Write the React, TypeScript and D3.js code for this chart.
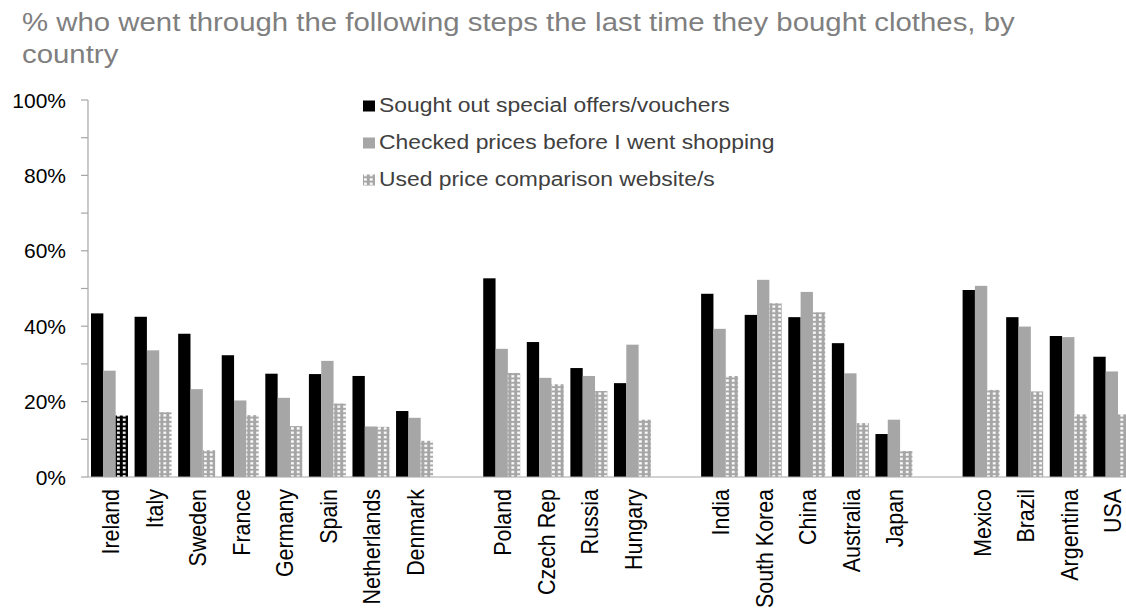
import React from "react";
import * as d3 from "d3";

const regionGroups: string[][] = [
  ["Ireland", "Italy", "Sweden", "France", "Germany", "Spain", "Netherlands", "Denmark"],
  ["Poland", "Czech Rep", "Russia", "Hungary"],
  ["India", "South Korea", "China", "Australia", "Japan"],
  ["Mexico", "Brazil", "Argentina", "USA"],
];

const seriesNames = [
  "Sought out special offers/vouchers",
  "Checked prices before I went shopping",
  "Used price comparison website/s",
];

// values in order of the flattened country list
const soughtOffers = [43.4, 42.5, 38.0, 32.3, 27.4, 27.3, 26.8, 17.5, 52.7, 35.8, 28.9, 24.9, 48.6, 43.0, 42.4, 35.5, 11.4, 49.6, 42.4, 37.4, 31.9];
const checkedPrices = [28.2, 33.6, 23.3, 20.3, 21.0, 30.8, 13.4, 15.7, 34.0, 26.3, 26.8, 35.1, 39.3, 52.3, 49.1, 27.5, 15.2, 50.7, 39.9, 37.1, 28.0];
const comparisonSites = [16.3, 17.2, 7.1, 16.4, 13.5, 19.5, 13.3, 9.6, 27.6, 24.6, 22.8, 15.2, 26.8, 46.1, 43.7, 14.3, 6.9, 23.1, 22.7, 16.6, 16.6];

const yTicks = [0, 20, 40, 60, 80, 100];
const yMinorTicks = [0, 10, 20, 30, 40, 50, 60, 70, 80, 90, 100];

const titleLines = [
  "% who went through the following steps the last time they bought clothes, by",
  "country",
];

const W = 1126;
const H = 612;
const FONT = "'Liberation Sans', Arial, Helvetica, sans-serif";

export default function App() {
  const slots: string[] = [];
  regionGroups.forEach((g, i) => {
    if (i > 0) slots.push(`__gap${i}`);
    g.forEach((c) => slots.push(c));
  });
  const countries = regionGroups.flat();

  const left = 87.7;
  const step = 43.58;
  const x = d3.scaleBand<string>().domain(slots).range([left, left + step * slots.length]).padding(0);
  const inner = d3.scaleBand<string>().domain(seriesNames).range([3.3, step - 3.3]).padding(0);
  const y = d3.scaleLinear().domain([0, 100]).range([477, 100]);

  const seriesValues = [soughtOffers, checkedPrices, comparisonSites];
  const fills = ["#000000", "#a6a6a6", "url(#dots)"];

  return (
    <svg
      width={W}
      height={H}
      style={{ position: "absolute", left: 0, top: 0, background: "#fff" }}
      fontFamily={FONT}
    >
      <defs>
        <pattern id="dots" patternUnits="userSpaceOnUse" width={5.8} height={4.35}>
          <rect width={5.8} height={4.35} fill="#a6a6a6" />
          <rect x={1} y={1} width={2.8} height={2.3} fill="#ffffff" />
        </pattern>
        <pattern id="dotsBlack" patternUnits="userSpaceOnUse" width={5.8} height={4.35}>
          <rect width={5.8} height={4.35} fill="#000000" />
          <rect x={1} y={1} width={2.8} height={2.3} fill="#ffffff" />
        </pattern>
      </defs>
      <rect width={W} height={H} fill="#fff" />

      {titleLines.map((t, i) => (
        <text
          key={i}
          transform={`translate(22,${31 + i * 32}) scale(1.13,1)`}
          fontSize={26}
          fill="#7f7f7f"
        >
          {t}
        </text>
      ))}

      {/* y axis */}
      <line x1={88} x2={88} y1={y(100)} y2={y(0)} stroke="#a6a6a6" strokeWidth={1.2} />
      {yMinorTicks.map((t) => (
        <line key={t} x1={81} x2={88} y1={y(t)} y2={y(t)} stroke="#a6a6a6" strokeWidth={1.2} />
      ))}
      {yTicks.map((t) => (
        <text key={t} x={66} y={y(t)} dy="0.36em" textAnchor="end" fontSize={21} fill="#000">
          {d3.format(".0%")(t / 100)}
        </text>
      ))}

      {/* bars */}
      {countries.map((c, ci) =>
        seriesValues.map((vals, si) => {
          const x0 = (x(c) ?? 0) + (inner(seriesNames[si]) ?? 0);
          const fill = si === 2 && ci === 0 ? "url(#dotsBlack)" : fills[si];
          return (
            <rect
              key={`${c}-${si}`}
              x={x0}
              y={y(vals[ci])}
              width={inner.bandwidth()}
              height={y(0) - y(vals[ci])}
              fill={fill}
            />
          );
        })
      )}

      {/* x axis */}
      <line x1={88} x2={W} y1={y(0)} y2={y(0)} stroke="#a6a6a6" strokeWidth={1.2} />
      {countries.map((c) => {
        const cx = (x(c) ?? 0) + x.bandwidth() / 2;
        return (
          <text
            key={c}
            transform={`translate(${cx + 1},${489}) rotate(-90) scale(1.02,1.12)`}
            textAnchor="end"
            dy="0.36em"
            fontSize={21}
            fill="#000"
          >
            {c}
          </text>
        );
      })}

      {/* legend */}
      {seriesNames.map((s, i) => (
        <g key={s} transform={`translate(363,${112 + i * 37})`}>
          <rect x={0} y={-11.5} width={12} height={11} fill={i === 2 ? "url(#dots)" : fills[i]} />
          <text transform="translate(16,0) scale(1.09,1)" fontSize={21} fill="#404040">
            {s}
          </text>
        </g>
      ))}
    </svg>
  );
}
